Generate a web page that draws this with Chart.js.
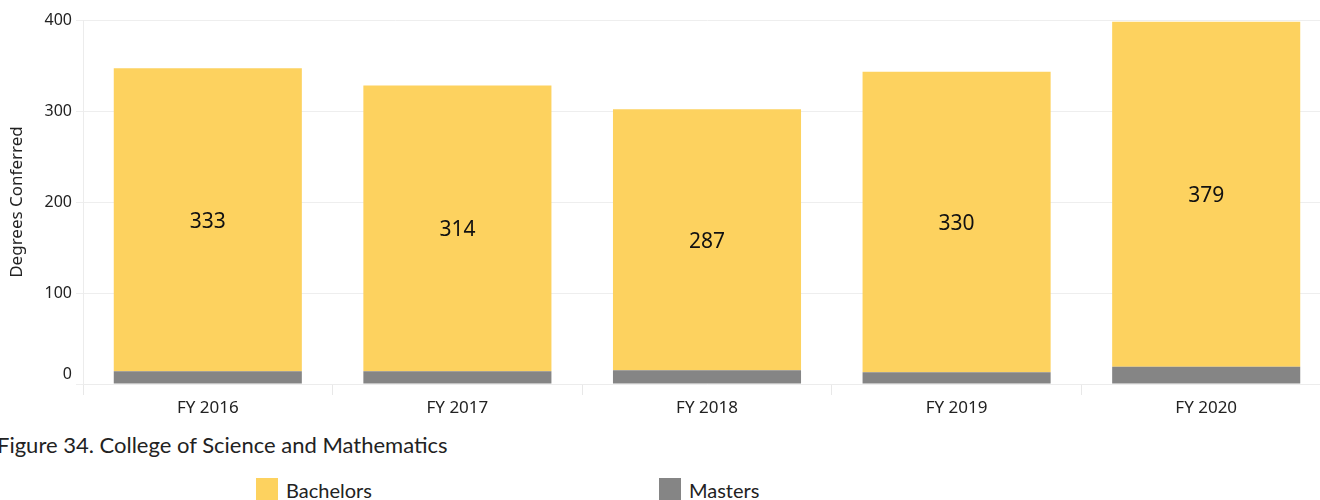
<!DOCTYPE html>
<html>
<head>
<meta charset="utf-8">
<script src="https://cdn.jsdelivr.net/npm/chart.js@4"></script>
<style>
  body { margin: 0; background: #fff; overflow: hidden; }
  #wrap { position: relative; width: 1320px; height: 500px; overflow: hidden; }
  #degrees { position: absolute; left: 0; top: 0; }
  .caption {
    position: absolute; left: -3px; top: 431px;
    font: 22px Lato, sans-serif; color: #222;
  }
  .key { position: absolute; top: 478px; font: 20px Lato, sans-serif; color: #222; }
  .key span { display: inline-block; width: 22px; height: 22px; vertical-align: top; margin-right: 8px; }
  .key b { font-weight: normal; position: relative; top: 0px; }
</style>
</head>
<body>
<div id="wrap">
  <canvas id="degrees" width="1331" height="420"></canvas>
  <div class="caption">Figure 34. College of Science and Mathematics</div>
  <div class="key" style="left:256px"><span style="background:#fdd25f"></span><b>Bachelors</b></div>
  <div class="key" style="left:659px"><span style="background:#858585"></span><b>Masters</b></div>
</div>
<script>
const years = ['FY 2016', 'FY 2017', 'FY 2018', 'FY 2019', 'FY 2020'];
const bachelors = [333, 314, 287, 330, 379];
const masters = [14, 14, 15, 13, 19];
const yTicks = [0, 100, 200, 300, 400];

// y labels drawn by hand so the bottom "0" can sit a little above its gridline
const yLabels = {
  id: 'yLabels',
  afterDraw(chart) {
    const { ctx, scales: { y } } = chart;
    ctx.save();
    ctx.font = '16px "Noto Sans", sans-serif';
    ctx.fillStyle = '#222';
    ctx.textAlign = 'right';
    ctx.textBaseline = 'middle';
    yTicks.forEach(v => {
      let py = y.getPixelForValue(v);
      if (v === 0) py -= 10;
      ctx.fillText(String(v), 72, py);
    });
    ctx.restore();
  }
};

// bachelors count in the middle of each yellow segment
const barValues = {
  id: 'barValues',
  afterDatasetsDraw(chart) {
    const { ctx } = chart;
    const meta = chart.getDatasetMeta(1);
    ctx.save();
    ctx.font = '21px "Noto Sans", sans-serif';
    ctx.fillStyle = '#111';
    ctx.textAlign = 'center';
    ctx.textBaseline = 'middle';
    meta.data.forEach((bar, i) => {
      const { x, y, base } = bar.getProps(['x', 'y', 'base'], true);
      ctx.fillText(bachelors[i], x, (y + base) / 2 + 2);
    });
    ctx.restore();
  }
};

new Chart(document.getElementById('degrees'), {
  type: 'bar',
  data: {
    labels: years,
    datasets: [
      { label: 'Masters', data: masters, backgroundColor: '#858585' },
      { label: 'Bachelors', data: bachelors, backgroundColor: '#fdd25f' }
    ]
  },
  options: {
    responsive: false,
    animation: false,
    events: [],
    layout: { padding: { top: 20, right: 0, left: 0, bottom: 0 } },
    datasets: { bar: { categoryPercentage: 1, barPercentage: 0.7535 } },
    plugins: { legend: { display: false }, tooltip: { enabled: false } },
    scales: {
      x: {
        stacked: true,
        grid: { offset: true, drawOnChartArea: false, tickLength: 11, color: '#e8e8e8' },
        border: { color: '#ececec' },
        ticks: { color: '#222', font: { family: 'Noto Sans', size: 17 }, padding: 3 },
        afterFit(s) { s.height = 36; }
      },
      y: {
        stacked: true,
        min: 0, max: 400,
        grid: { color: '#eeeeee', tickLength: 7 },
        border: { color: '#ececec' },
        ticks: { stepSize: 100, color: 'rgba(0,0,0,0)', font: { size: 16 } },
        title: {
          display: true, text: 'Degrees Conferred', color: '#222',
          font: { family: 'Noto Sans', size: 17 }, padding: { top: 7, bottom: 0 }
        },
        afterFit(s) { s.width = 83; }
      }
    }
  },
  plugins: [yLabels, barValues]
});
</script>
</body>
</html>
